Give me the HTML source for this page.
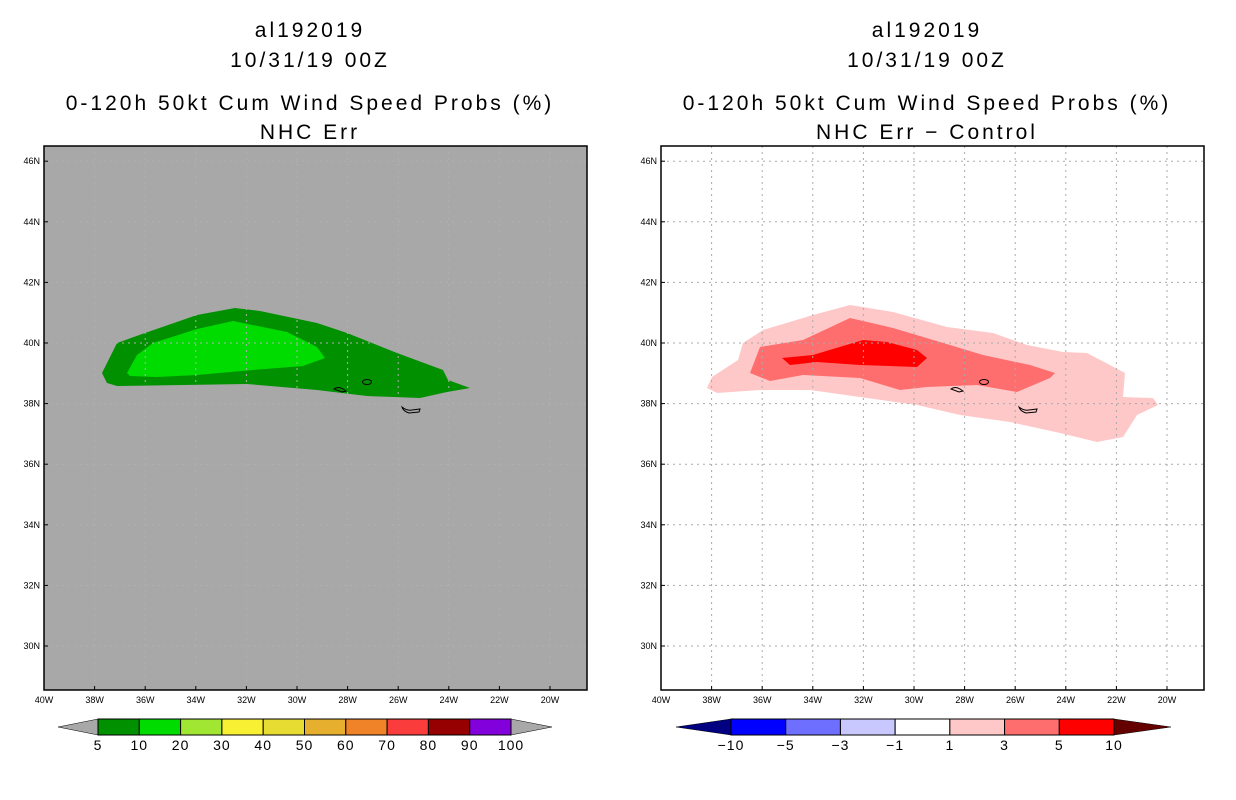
<!DOCTYPE html>
<html><head><meta charset="utf-8"><style>
body{margin:0;background:#fff;width:1236px;height:800px;overflow:hidden}
svg{display:block;font-family:"Liberation Sans",sans-serif}
</style></head><body>
<svg id="c" width="1236" height="800"></svg>
<script>
const latTicks=[46,44,42,40,38,36,34,32,30];
const lonTicks=[40,38,36,34,32,30,28,26,24,22,20];
const leftLevels=["5","10","20","30","40","50","60","70","80","90","100"];
const leftColors=["#009000","#00dc00","#a0e632","#f8f032","#e6dc32","#e6af2d","#f08228","#fa3c3c","#960000","#8200dc"];
const rightLevels=["-10","-5","-3","-1","1","3","5","10"];
const rightColors=["#0000ff","#6e6eff","#c8c8ff","#ffffff","#ffc8c8","#ff6e6e","#ff0000"];
const leftOuter=[[102,373],[117,343],[145,333],[197,315],[235,308],[260,311],[317,323],[347,333],[397,353],[443,370],[448,380],[470,388],[447,392],[420,398],[367,396],[317,390],[247,384],[117,386],[107,383]];
const leftInner=[[127,373],[137,355],[153,343],[197,329],[233,321],[287,332],[317,347],[325,358],[303,366],[253,370],[197,375],[157,377],[130,376]];
const rightLight=[[707,388],[712,377],[738,360],[743,343],[763,330],[813,315],[850,305],[893,312],[947,327],[993,333],[1027,345],[1063,352],[1087,353],[1125,373],[1123,397],[1153,398],[1158,405],[1137,415],[1123,437],[1097,442],[1060,433],[1010,422],[960,415],[917,405],[860,397],[810,390],[760,390],[717,393]];
const rightMed=[[750,373],[760,347],[803,340],[850,318],[893,328],[950,345],[983,355],[1030,365],[1055,373],[1050,378],[1017,392],[977,385],[927,387],[900,390],[860,378],[803,375],[770,381]];
const rightRed=[[782,358],[813,355],[863,340],[887,342],[917,350],[927,358],[917,367],[860,365],[817,362],[790,365]];
const S=document.getElementById('c');const NS='http://www.w3.org/2000/svg';
function el(t,a,p){const e=document.createElementNS(NS,t);for(const k in a)e.setAttribute(k,a[k]);(p||S).appendChild(e);return e;}
const yLat=lat=>343+(40-lat)*30.3;
const xLon=(w,x0)=>x0+(40-w)*25.3;
function poly(pts,dx,fill,name){const e=el('polygon',{points:pts.map(p=>(p[0]+dx)+','+p[1]).join(' '),fill:fill});

}
function panel(x0,bg,cx,sub,name){
 const g=el('g',{});
 
 
 const t=['al192019','10/31/19 00Z','0-120h 50kt Cum Wind Speed Probs (%)',sub],ty=[37,67,110,139];
 t.forEach((s,i)=>{const e=el('text',{x:cx,y:ty[i],'text-anchor':'middle','font-size':21,'letter-spacing':'3px',fill:'#000'},g);e.textContent=s;
 
 });
 el('rect',{x:x0,y:146,width:543,height:544,fill:bg},g);
 return g;}
function gridAndFrame(x0,g,grid){
 lonTicks.forEach(w=>{const x=xLon(w,x0);if(w<40)el('line',{x1:x,y1:146,x2:x,y2:690,stroke:grid,'stroke-dasharray':'2,4'},g);
  const t=el('text',{x:x,y:703,'text-anchor':'middle','font-size':9},g);t.textContent=w+'W';
  
  
  el('line',{x1:x,y1:690,x2:x,y2:686,stroke:'#000'},g);});
 latTicks.forEach(l=>{const y=yLat(l);el('line',{x1:x0,y1:y,x2:x0+543,y2:y,stroke:grid,'stroke-dasharray':'2,4'},g);
  const t=el('text',{x:x0-4,y:y+3,'text-anchor':'end','font-size':9},g);t.textContent=l+'N';
  
  
  el('line',{x1:x0,y1:y,x2:x0+4,y2:y,stroke:'#000'},g);});
 const dx=x0-44;
 el('ellipse',{cx:367+dx,cy:382,rx:4.5,ry:2.5,fill:'none',stroke:'#000'},g);
 el('path',{d:`M${334+dx},389 q4,-3 9,0 l3,2 l-4,1 z`,fill:'none',stroke:'#000'},g);
 el('path',{d:`M${402+dx},407 q5,4 10,3 l8,-1 l-1,3 l-10,1 q-6,-2 -7,-6 z`,fill:'none',stroke:'#000'},g);
 el('rect',{x:x0,y:146,width:543,height:544,fill:'none',stroke:'#000','stroke-width':1.5},g);}
function colorbar(x0,x1,xl,xr,cols,labs,lc,rc,name){
 const g=el('g',{});
 
 
 const w=(x1-x0)/cols.length;
 el('polygon',{points:`${xl},727 ${x0},719 ${x0},735`,fill:lc,stroke:'#000','stroke-width':0.5},g);
 el('polygon',{points:`${xr},727 ${x1},719 ${x1},735`,fill:rc,stroke:'#000','stroke-width':0.5},g);
 cols.forEach((c,i)=>el('rect',{x:x0+i*w,y:719,width:w,height:16,fill:c,stroke:'#000'},g));
 labs.forEach((s,i)=>{const t=el('text',{x:x0+i*w,y:750,'text-anchor':'middle','font-size':14,'letter-spacing':'1px'},g);t.textContent=s.replace('-','\u2212');
 
 });}
panel(44,'#a8a8a8',310,'NHC Err','left-panel');
poly(leftOuter,0,'#009000','prob-10-contour');poly(leftInner,0,'#00dc00','prob-20-contour');
gridAndFrame(44,S,'#b0b0b0');
panel(661,'#ffffff',927,'NHC Err \u2212 Control','right-panel');
poly(rightLight,0,'#ffc8c8','diff-1-contour');poly(rightMed,0,'#ff6e6e','diff-3-contour');poly(rightRed,0,'#ff0000','diff-5-contour');
gridAndFrame(661,S,'#aaa');
colorbar(98,511,58,552,leftColors,leftLevels,'#a8a8a8','#a8a8a8','left-colorbar');
colorbar(731,1114,676,1171,rightColors,rightLevels,'#000080','#640000','right-colorbar');
</script>
</body></html>
